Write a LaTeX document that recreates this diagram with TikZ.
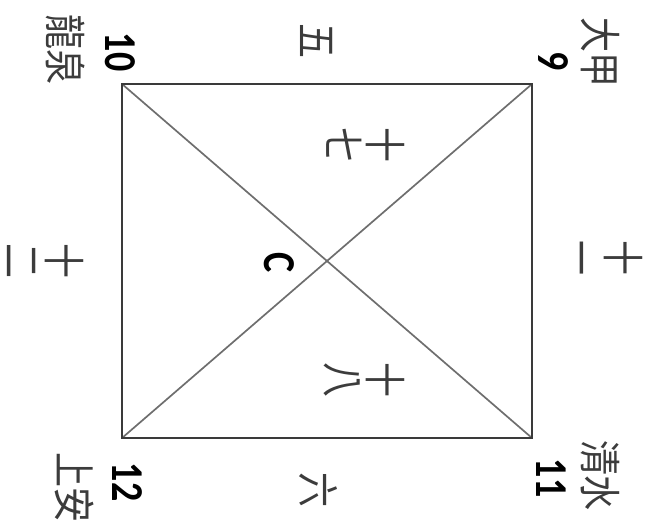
\documentclass[tikz,border=0pt]{standalone}
\usepackage{fontspec}
\newfontfamily\cjk{Noto Sans CJK TC}
\newfontfamily\numfont{Carlito}
\usetikzlibrary{positioning}
\definecolor{Frame}{RGB}{58,58,58}
\definecolor{Diag}{RGB}{110,110,110}
\definecolor{Ink}{RGB}{60,60,60}

\begin{document}
\begin{tikzpicture}[x=1pt,y=-1pt,
    place/.style={rotate=-90,yscale=1.2,inner sep=0pt,text=Ink,align=center,
                  font=\cjk\fontsize{35}{35}\selectfont},
    num/.style={rotate=-90,yscale=1.2,inner sep=0pt,
                font=\numfont\bfseries\fontsize{38}{40}\selectfont},
    frame/.style={draw=Frame,line width=2.2pt},
    diag/.style={draw=Diag,line width=1.7pt}]

  \useasboundingbox (0,0) rectangle (645,529);

  % corners of the block
  \coordinate (c10) at (122,84);
  \coordinate (c9)  at (532,84);
  \coordinate (c12) at (122,438);
  \coordinate (c11) at (532,438);

  \draw[diag] (c10) -- (c11);
  \draw[diag] (c9) -- (c12);
  \draw[frame] (c10) rectangle (c11);

  % corner numbers and names
  \node[num]   (n10) at (120,52)  {10};
  \node[place] (lq)  at (65,50)   {龍泉};
  \node[num]   (n9)  at (553,61)  {9};
  \node[place] (dj)  at (600,53)  {大甲};
  \node[num]   (n12) at (127,482) {12};
  \node[place] (sa)  at (75,487)  {上安};
  \node[num]   (n11) at (551,478) {11};
  \node[place] (qs)  at (600,475) {清水};

  % edge labels
  \node[place] (e5)  at (317,41)  {五};
  \node[place] (e12) at (45,261)  {十\\二};
  \node[place] (e11) at (604,258) {十\\一};
  \node[place] (e6)  at (318,490) {六};

  % inside
  \node[place] (i17) at (366,145) {十\\七};
  \node[place] (i18) at (364,380) {十\\八};
  \node[num]   (cc)  at (279,263) {C};
\end{tikzpicture}
\end{document}
